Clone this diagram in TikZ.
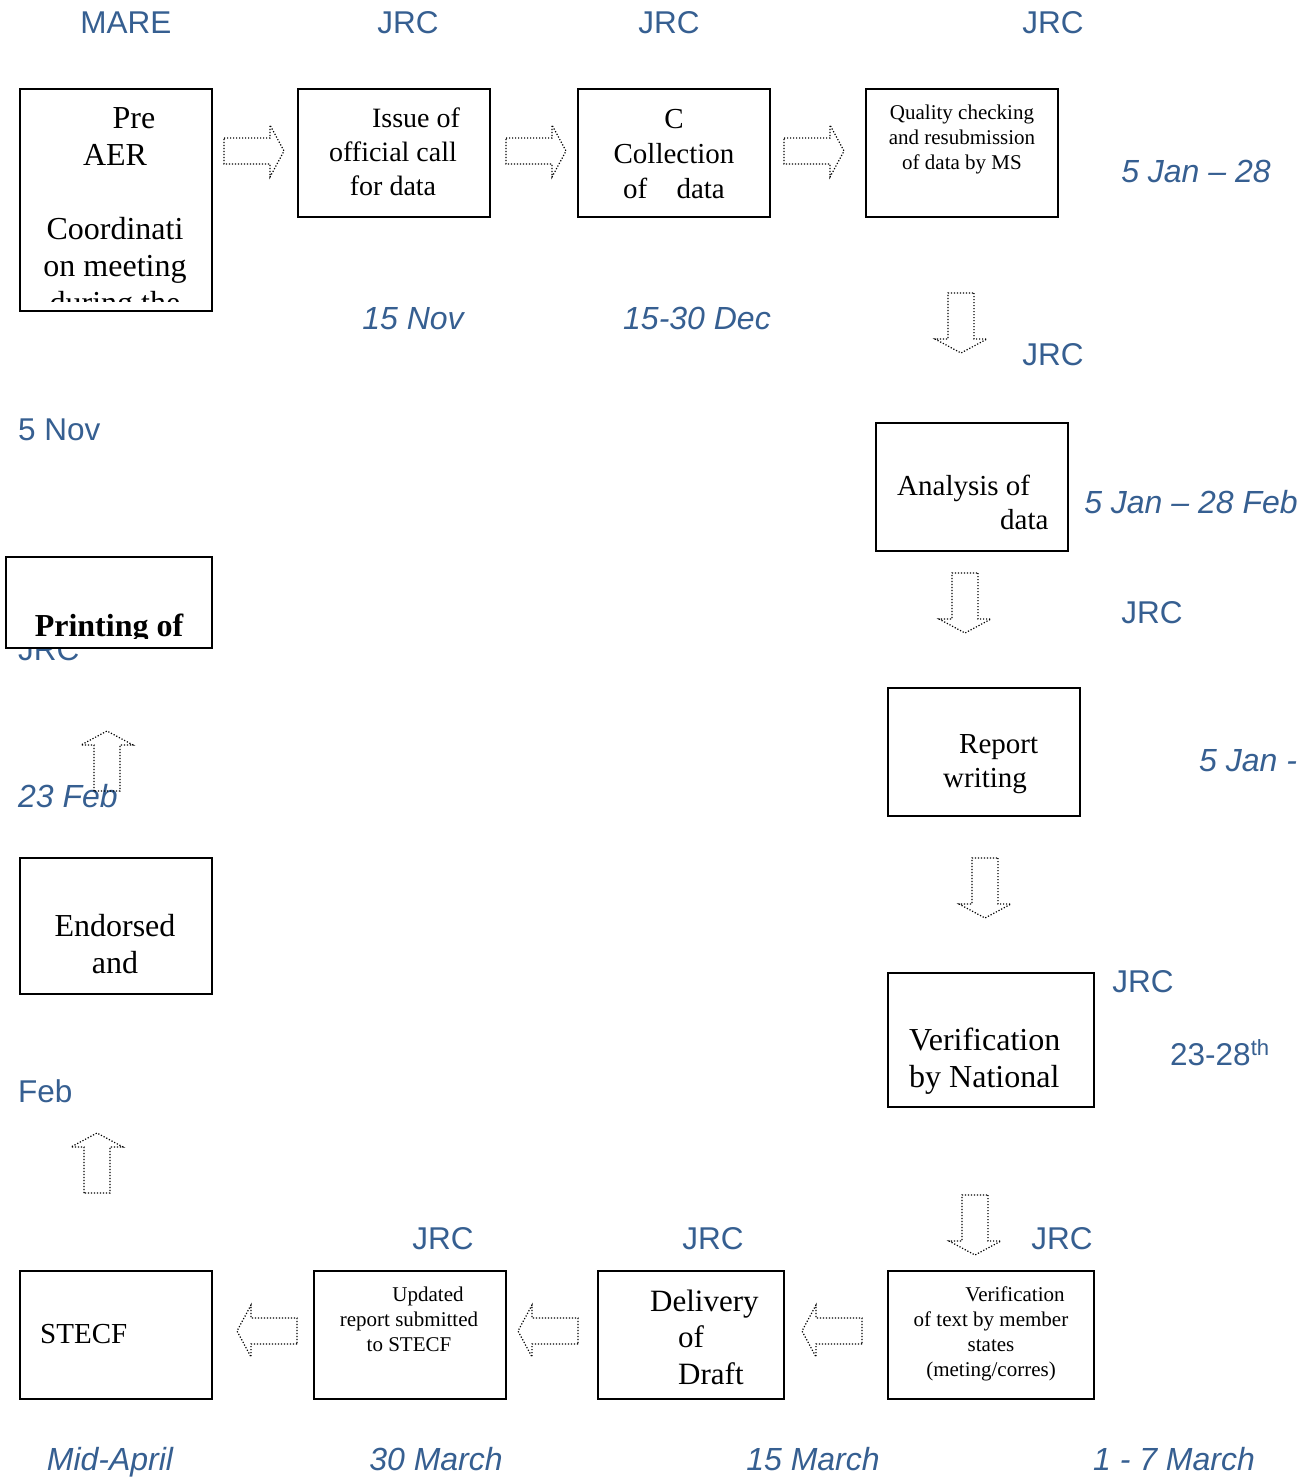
\documentclass[tikz,border=0pt]{standalone}
\usepackage{fontspec}
\setmainfont{Liberation Serif}
\newfontfamily\arialf{Liberation Sans}
\definecolor{lbl}{RGB}{54,95,145}
\newcommand{\fsz}[2]{\fontsize{#1}{#2}\selectfont}
\tikzset{
  box/.style={draw, line width=1.6pt, fill=white, inner sep=0pt},
  tx/.style={inner sep=0pt, align=center},
  lab/.style={text=lbl, inner sep=0pt, font=\arialf\fsz{31.5}{37}},
  dt/.style={text=lbl, inner sep=0pt, font=\arialf\itshape\fsz{32}{37}},
  arr/.style={draw, line width=1.2pt, dash pattern=on 1.2pt off 1.8pt},
  blockarrow/.pic={\path[arr] (-30,-13) -- (16,-13) -- (16,-26) -- (30,0) -- (16,26) -- (16,13) -- (-30,13) -- cycle;}
}
\begin{document}
\begin{tikzpicture}[x=1pt,y=-1pt]
\useasboundingbox[fill=white] (0,0) rectangle (1312,1477);

% ---------- top labels ----------
\node[lab, anchor=base] (lmare) at (126,34) {MARE};
\node[lab, anchor=base] (lj1) at (408,34) {JRC};
\node[lab, anchor=base] (lj2) at (669,34) {JRC};
\node[lab, anchor=base] (lj3) at (1053,34) {JRC};

% ---------- top row boxes ----------
\node[box, minimum width=192, minimum height=222] (b1) at (116,200) {};
\begin{scope}
  \clip (21,90) rectangle (211,301);
  \node[tx, font=\fsz{32}{37}] (t1) at (115,214) {\hspace*{38pt}Pre\\AER\\[37pt]Coordinati\\on meeting\\during the};
\end{scope}

\node[box, minimum width=192, minimum height=128] (b2) at (394,153) {};
\node[tx, font=\fsz{28}{34}] (t2) at (393,152) {\hspace*{46pt}Issue of\\official call\\for data};

\node[box, minimum width=192, minimum height=128] (b3) at (674,153) {};
\node[tx, font=\fsz{29}{35}] (t3) at (674,154) {C\\Collection\\of\hspace{22pt} data};

\node[box, minimum width=192, minimum height=128] (b4) at (962,153) {};
\node[tx, font=\fsz{21}{25}] (t4) at (962,139) {Quality checking\\and resubmission\\of data by MS};

\pic (a1) at (254,151) {blockarrow};
\pic (a2) at (536,151) {blockarrow};
\pic (a3) at (814,151) {blockarrow};

\node[dt, anchor=base] (d1) at (1196,182) {5 Jan \textendash{} 28};
\node[dt, anchor=base] (d2) at (413,329) {15 Nov};
\node[dt, anchor=base] (d3) at (697,329) {15-30 Dec};

% ---------- right column ----------
\pic[rotate=-90] (a4) at (961,323) {blockarrow};
\node[lab, anchor=base] (lj4) at (1053,365) {JRC};
\node[lab, anchor=base west] (d4) at (18,440) {5 Nov};

\node[box, minimum width=192, minimum height=128] (b5) at (972,487) {};
\node[tx, align=left, anchor=west, font=\fsz{29}{34}] (t5) at (897,502) {Analysis of\\\hspace*{103pt}data};
\node[dt, anchor=base] (d5) at (1191,513) {5 Jan \textendash{} 28 Feb};

\pic[rotate=-90] (a5) at (965,603) {blockarrow};
\node[lab, anchor=base] (lj5) at (1152,623) {JRC};

\node[box, minimum width=192, minimum height=128] (b6) at (984,752) {};
\node[tx, align=left, anchor=west, font=\fsz{29}{34}] (t6) at (943,764) {\hspace*{16pt}Report\\writing};
\node[dt, anchor=base west] (d6) at (1199,771) {5 Jan -};

\pic[rotate=-90] (a6) at (985,888) {blockarrow};
\node[lab, anchor=base] (lj6) at (1143,992) {JRC};

\node[box, minimum width=206, minimum height=134] (b7) at (991,1040) {};
\node[tx, align=left, anchor=west, font=\fsz{32}{37}] (t7) at (909,1061) {Verification\\by National};
\node[lab, anchor=base west] (d7) at (1170,1065) {23-28\textsuperscript{th}};

\pic[rotate=-90] (a7) at (975,1225) {blockarrow};

% ---------- bottom row ----------
\node[lab, anchor=base] (lj7) at (1062,1249) {JRC};
\node[lab, anchor=base] (lj8) at (713,1249) {JRC};
\node[lab, anchor=base] (lj9) at (443,1249) {JRC};

\node[box, minimum width=206, minimum height=128] (b8) at (991,1335) {};
\node[tx, font=\fsz{21}{25}] (t8) at (991,1334) {\hspace*{48pt}Verification\\of text by member\\states\\(meting/corres)};

\node[box, minimum width=186, minimum height=128] (b9) at (691,1335) {};
\node[tx, align=left, anchor=west, font=\fsz{31}{36.5}] (t9) at (650,1337) {Delivery\\\hspace*{28pt}of\\\hspace*{28pt}Draft};

\node[box, minimum width=192, minimum height=128] (b10) at (410,1335) {};
\node[tx, font=\fsz{21}{25}] (t10) at (409,1319) {\hspace*{38pt}Updated\\report submitted\\to STECF};

\node[box, minimum width=192, minimum height=128] (b11) at (116,1335) {};
\node[tx, anchor=base west, font=\fsz{29}{34}] (t11) at (40,1343) {STECF};

\pic[rotate=180] (a8) at (832,1331) {blockarrow};
\pic[rotate=180] (a9) at (548,1331) {blockarrow};
\pic[rotate=180] (a10) at (267,1331) {blockarrow};

\node[dt, anchor=base] (d8) at (110,1470) {Mid-April};
\node[dt, anchor=base] (d9) at (436,1470) {30 March};
\node[dt, anchor=base] (d10) at (813,1470) {15 March};
\node[dt, anchor=base] (d11) at (1174,1470) {1 - 7 March};

% ---------- left column ----------
\node[lab, anchor=base west] (lj10) at (18,660) {JRC};
\node[box, minimum width=206, minimum height=91] (b12) at (109,602.5) {};
\begin{scope}
  \clip (7,558) rectangle (211,638);
  \node[tx, anchor=base, font=\bfseries\fsz{32}{37}] (t12) at (109,636) {Printing of};
\end{scope}

\node[dt, anchor=base west] (d12) at (18,807) {23 Feb};
\pic[rotate=90] (a11) at (107,761) {blockarrow};

\node[box, minimum width=192, minimum height=136] (b13) at (116,926) {};
\node[tx, font=\fsz{32}{37}] (t13) at (115,944.5) {Endorsed\\and};

\node[lab, anchor=base west] (d13) at (18,1102) {Feb};
\pic[rotate=90] (a12) at (97,1163) {blockarrow};

\end{tikzpicture}
\end{document}
